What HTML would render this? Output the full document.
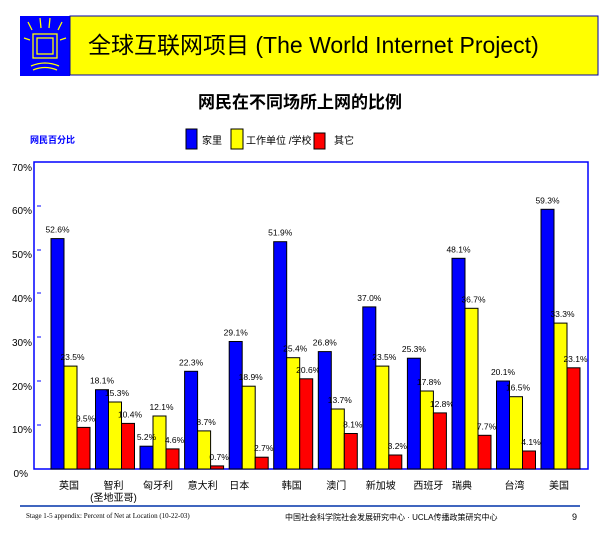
<!DOCTYPE html><html><head><meta charset="utf-8"><style>body{margin:0;background:#fff}svg{display:block}</style></head><body>
<svg width="600" height="540" xmlns="http://www.w3.org/2000/svg" font-family="Liberation Sans, Noto Sans CJK SC, sans-serif">
<rect x="20" y="16" width="50" height="60" fill="#0000ff"/>
<g stroke="#ffff00" stroke-width="1.3" fill="none">
<rect x="33" y="34" width="24" height="24"/><rect x="37" y="38" width="16" height="16"/>
<path d="M31 66 Q45 60 59 66 M33 70 Q45 65 57 70 M28 22 L32 30 M40 18 L41 28 M50 18 L49 28 M62 22 L58 30 M24 38 L30 40 M66 38 L60 40"/></g>
<rect x="70" y="16" width="528" height="59" fill="#ffff00" stroke="#0000aa" stroke-width="1"/>
<text x="88" y="53" font-size="23">全球互联网项目 (The World Internet Project)</text>
<text x="300" y="108" font-size="17" font-weight="bold" text-anchor="middle" font-family="Noto Sans CJK SC, sans-serif">网民在不同场所上网的比例</text>
<text x="30" y="143" font-size="9" font-weight="bold" fill="#0000ff">网民百分比</text>
<rect x="186" y="129" width="11" height="20" fill="#0000ff" stroke="#000"/><text x="202" y="144" font-size="10">家里</text>
<rect x="231" y="129" width="12" height="20" fill="#ffff00" stroke="#000"/><text x="246" y="144" font-size="10">工作单位 /学校</text>
<rect x="314" y="133" width="11" height="16" fill="#ff0000" stroke="#000"/><text x="334" y="144" font-size="10">其它</text>
<rect x="34" y="162" width="554" height="307" fill="none" stroke="#0000ff" stroke-width="1.5"/>
<g font-size="10" text-anchor="end">
<text x="32" y="171">70%</text><text x="32" y="214">60%</text><text x="32" y="258">50%</text><text x="32" y="302">40%</text><text x="32" y="346">30%</text><text x="32" y="390">20%</text><text x="32" y="433">10%</text><text x="28" y="477">0%</text></g>
<g stroke="#0000ff"><line x1="37" x2="41" y1="206" y2="206"/><line x1="37" x2="41" y1="250" y2="250"/><line x1="37" x2="41" y1="293" y2="293"/><line x1="37" x2="41" y1="337" y2="337"/><line x1="37" x2="41" y1="381" y2="381"/><line x1="37" x2="41" y1="425" y2="425"/></g>
<defs><style>.b{fill:#0000ff;stroke:#000}.y{fill:#ffff00;stroke:#000}.r{fill:#ff0000;stroke:#000}.l{font-size:8.5px;text-anchor:middle}.n{font-size:10px;text-anchor:middle}</style></defs>

<g transform="translate(51,0)"><rect class="b" x="0" y="238.6" width="13" height="230.4"/><rect class="y" x="13" y="366.1" width="13" height="102.9"/><rect class="r" x="26" y="427.4" width="13" height="41.6"/>
<text class="l" x="6.5" y="232.6">52.6%</text><text class="l" x="21.5" y="360.1">23.5%</text><text class="l" x="34.5" y="421.4">9.5%</text><text class="n" x="18" y="489">英国</text></g>

<g transform="translate(95.5,0)"><rect class="b" x="0" y="389.7" width="13" height="79.3"/><rect class="y" x="13" y="402" width="13" height="67"/><rect class="r" x="26" y="423.4" width="13" height="45.6"/>
<text class="l" x="6.5" y="383.7">18.1%</text><text class="l" x="21.5" y="396">15.3%</text><text class="l" x="34.5" y="417.4">10.4%</text><text class="n" x="18" y="489">智利</text><text class="n" x="18" y="501">(圣地亚哥)</text></g>

<g transform="translate(140,0)"><rect class="b" x="0" y="446.2" width="13" height="22.8"/><rect class="y" x="13" y="416" width="13" height="53"/><rect class="r" x="26" y="448.9" width="13" height="20.1"/>
<text class="l" x="6.5" y="440.2">5.2%</text><text class="l" x="21.5" y="410">12.1%</text><text class="l" x="34.5" y="442.9">4.6%</text><text class="n" x="18" y="489">匈牙利</text></g>

<g transform="translate(184.6,0)"><rect class="b" x="0" y="371.3" width="13" height="97.7"/><rect class="y" x="13" y="430.9" width="13" height="38.1"/><rect class="r" x="26" y="465.9" width="13" height="3.1"/>
<text class="l" x="6.5" y="365.3">22.3%</text><text class="l" x="21.5" y="424.9">8.7%</text><text class="l" x="34.5" y="459.9">0.7%</text><text class="n" x="18" y="489">意大利</text></g>

<g transform="translate(229.2,0)"><rect class="b" x="0" y="341.5" width="13" height="127.5"/><rect class="y" x="13" y="386.2" width="13" height="82.8"/><rect class="r" x="26" y="457.2" width="13" height="11.8"/>
<text class="l" x="6.5" y="335.5">29.1%</text><text class="l" x="21.5" y="380.2">18.9%</text><text class="l" x="34.5" y="451.2">2.7%</text><text class="n" x="10" y="489">日本</text></g>

<g transform="translate(273.7,0)"><rect class="b" x="0" y="241.7" width="13" height="227.3"/><rect class="y" x="13" y="357.7" width="13" height="111.3"/><rect class="r" x="26" y="378.8" width="13" height="90.2"/>
<text class="l" x="6.5" y="235.7">51.9%</text><text class="l" x="21.5" y="351.7">25.4%</text><text class="l" x="34.5" y="372.8">20.6%</text><text class="n" x="18" y="489">韩国</text></g>

<g transform="translate(318.3,0)"><rect class="b" x="0" y="351.6" width="13" height="117.4"/><rect class="y" x="13" y="409" width="13" height="60"/><rect class="r" x="26" y="433.5" width="13" height="35.5"/>
<text class="l" x="6.5" y="345.6">26.8%</text><text class="l" x="21.5" y="403">13.7%</text><text class="l" x="34.5" y="427.5">8.1%</text><text class="n" x="18" y="489">澳门</text></g>

<g transform="translate(362.8,0)"><rect class="b" x="0" y="306.9" width="13" height="162.1"/><rect class="y" x="13" y="366.1" width="13" height="102.9"/><rect class="r" x="26" y="455" width="13" height="14"/>
<text class="l" x="6.5" y="300.9">37.0%</text><text class="l" x="21.5" y="360.1">23.5%</text><text class="l" x="34.5" y="449">3.2%</text><text class="n" x="18" y="489">新加坡</text></g>

<g transform="translate(407.4,0)"><rect class="b" x="0" y="358.2" width="13" height="110.8"/><rect class="y" x="13" y="391" width="13" height="78"/><rect class="r" x="26" y="412.9" width="13" height="56.1"/>
<text class="l" x="6.5" y="352.2">25.3%</text><text class="l" x="21.5" y="385">17.8%</text><text class="l" x="34.5" y="406.9">12.8%</text><text class="n" x="21" y="489">西班牙</text></g>

<g transform="translate(452,0)"><rect class="b" x="0" y="258.3" width="13" height="210.7"/><rect class="y" x="13" y="308.3" width="13" height="160.7"/><rect class="r" x="26" y="435.3" width="13" height="33.7"/>
<text class="l" x="6.5" y="252.3">48.1%</text><text class="l" x="21.5" y="302.3">36.7%</text><text class="l" x="34.5" y="429.3">7.7%</text><text class="n" x="10" y="489">瑞典</text></g>

<g transform="translate(496.5,0)"><rect class="b" x="0" y="381" width="13" height="88"/><rect class="y" x="13" y="396.7" width="13" height="72.3"/><rect class="r" x="26" y="451" width="13" height="18"/>
<text class="l" x="6.5" y="375">20.1%</text><text class="l" x="21.5" y="390.7">16.5%</text><text class="l" x="34.5" y="445">4.1%</text><text class="n" x="18" y="489">台湾</text></g>

<g transform="translate(541,0)"><rect class="b" x="0" y="209.3" width="13" height="259.7"/><rect class="y" x="13" y="323.1" width="13" height="145.9"/><rect class="r" x="26" y="367.8" width="13" height="101.2"/>
<text class="l" x="6.5" y="203.3">59.3%</text><text class="l" x="21.5" y="317.1">33.3%</text><text class="l" x="34.5" y="361.8">23.1%</text><text class="n" x="18" y="489">美国</text></g>

<line x1="20" y1="506" x2="580" y2="506" stroke="#0033aa" stroke-width="1.5"/>
<text x="26" y="518" font-size="7" font-family="Liberation Serif, serif">Stage 1-5 appendix: Percent of Net at Location (10-22-03)</text>
<text x="285" y="520" font-size="8">中国社会科学院社会发展研究中心 · UCLA传播政策研究中心</text>
<text x="572" y="520" font-size="9">9</text>
</svg></body></html>
